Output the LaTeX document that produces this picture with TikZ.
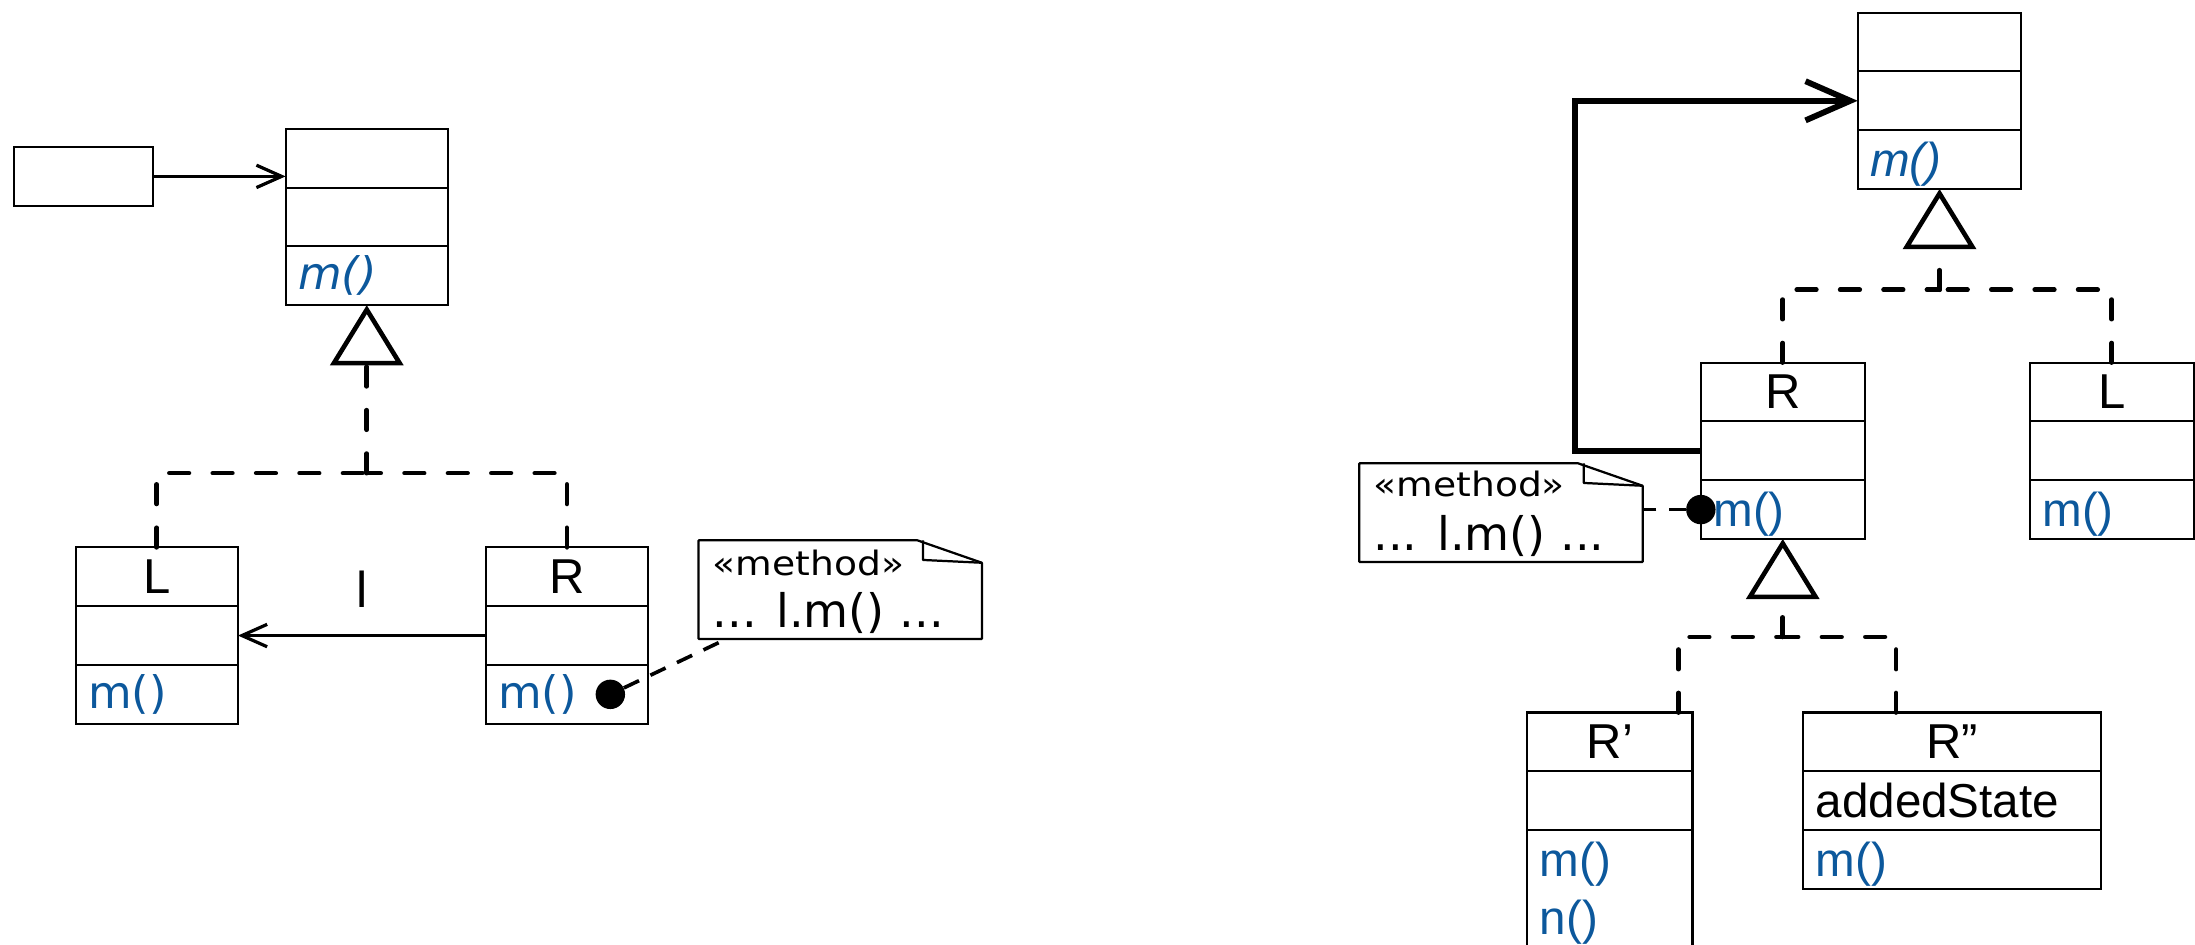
\documentclass[tikz,border=0pt]{standalone}
\usepackage{fontspec}
\usepackage{graphicx}
\setmainfont{Liberation Sans}
\newfontfamily\vfont{DejaVu Sans}
\usetikzlibrary{arrows.meta, positioning}

\definecolor{methblue}{RGB}{12,88,156}

\newcommand{\namefont}{\fontsize{35}{41}\selectfont}
\newcommand{\methfont}{\fontsize{34}{41}\selectfont}
\newcommand{\lmethfont}{\vfont\fontsize{32}{38}\selectfont}
\newcommand{\stereo}[1]{\scalebox{1.12}[1]{#1}}

\tikzset{
  clsbox/.style={draw, line width=1.5pt, outer sep=0pt, inner xsep=9pt, inner ysep=0pt, minimum height=42pt},
  clsname/.style={clsbox, font=\namefont, align=center, text height=24pt, text depth=0pt},
  clsattr/.style={clsbox, font=\methfont, align=left, text height=24pt, text depth=0pt},
  clsmeth/.style={clsbox, font=\methfont, text=methblue, align=left, text height=24pt, text depth=0pt},
  realize/.style={line width=3.3pt, dash pattern=on 14pt off 17pt, line cap=round},
  gen/.style={-{Triangle[open, length=43pt, width=52pt]}},
  assoc/.style={line width=2.3pt, -{Straight Barb[length=18pt, width=16pt]}},
  navig/.style={line width=4.2pt, -{Straight Barb[length=32pt, width=28pt]}},
  dotnode/.style={circle, fill, inner sep=0pt, minimum size=21pt},
  notefrm/.style={anchor=north west, inner sep=0pt, minimum width=202pt, minimum height=70pt},
  notebox/.style={line width=1.6pt, line join=round},
  noteline/.style={line width=2.6pt, dash pattern=on 12pt off 9pt},
  stereotxt/.style={anchor=base west, inner sep=0pt, font=\vfont\fontsize{24}{28}\selectfont},
  codetxt/.style={anchor=base west, inner sep=0pt, font=\vfont\fontsize{33}{38}\selectfont},
}

% #1 extra keys for the methods part, #2 name, #3 north west corner, #4 width
\newcommand{\umlclass}[7][]{%
  \pgfmathsetmacro{\clstw}{#4-18}%
  \node[clsname, minimum width=#4pt, text width=\clstw pt, anchor=north west] (#2) at (#3) {#5};
  \node[clsattr, minimum width=#4pt, text width=\clstw pt, below=0pt of #2] (#2-a) {#6};
  \node[clsmeth, minimum width=#4pt, text width=\clstw pt, below=0pt of #2-a, #1] (#2-m) {#7};
}

\begin{document}
\begin{tikzpicture}[x=1pt, y=-1pt]

\useasboundingbox (0,0) rectangle (1568,675);
\clip (0,0) rectangle (1568,675);

% left hand side
\node[clsbox, minimum width=99pt, anchor=north west] (S) at (10,105) {};
\umlclass[font=\lmethfont\itshape, text height={}, text depth={}]{A}{204,92}{116}{}{}{m()}
\umlclass[font=\lmethfont, text height={}, text depth={}]{L1}{54,391}{116}{L}{}{m()}
\umlclass[font=\lmethfont, text height={}, text depth={}]{R1}{347,391}{116}{R}{}{m()}

\draw[assoc] (S) -- (S -| A.west);
\draw[assoc] (R1-a) -- (L1-a) node[midway, above=19pt, inner sep=0pt, font=\fontsize{36}{40}\selectfont] (lbl) {l};

\coordinate (jA) at (262,338);
\draw[realize] (L1.north) |- (jA);
\draw[realize] (R1.north) |- (jA);
\draw[realize, gen] (jA) -- (A-m.south);

\node[dotnode] (d1) at ([xshift=-27pt]R1-m.east) {};
\node[notefrm] (N1) at (499,386) {};
\draw[notebox] (N1.north west) -- ([xshift=-46pt]N1.north east) -- ([yshift=-16pt]N1.north east) -- (N1.south east) -- (N1.south west) -- cycle;
\draw[notebox] ([xshift=-42pt]N1.north east) -- ++(0,14) -- ([yshift=-16pt]N1.north east);
\node[stereotxt] (N1-s) at ([xshift=10pt, yshift=-25pt]N1.north west) {\stereo{«method»}};
\node[codetxt] (N1-c) at ([xshift=10pt, yshift=-62pt]N1.north west) {... l.m() ...};
\coordinate (n1foot) at ([xshift=20pt]N1.south west);
\draw[noteline] (d1) -- (n1foot);

% right hand side
\umlclass[font=\methfont\itshape]{B}{1327,9}{117}{}{}{m()}
\umlclass{R2}{1215,259}{117}{R}{}{m()}
\umlclass{L2}{1450,259}{117}{L}{}{m()}
\umlclass[minimum height=90pt, text height={}, text depth={}]{Rp}{1091,509}{118}{R’}{}{m()\\n()}
\umlclass{Rpp}{1288,509}{213}{R”}{addedState}{m()}

\coordinate (jB) at (1385.5,207);
\draw[realize] (R2.north) |- (jB);
\draw[realize] (L2.north) |- (jB);
\draw[realize, gen] (jB) -- (B-m.south);

\coordinate (jR) at (1273.5,455);
\draw[realize] ([xshift=49pt]Rp.north) |- (jR);
\draw[realize] ([xshift=-40pt]Rpp.north) |- (jR);
\draw[realize, gen] (jR) -- (R2-m.south);

\coordinate (bend) at ([xshift=-90pt]R2-a.west);
\draw[navig] (R2-a.west) -- (bend) |- (B-a.west);

\node[dotnode] (d2) at (R2-m.west) {};
\node[notefrm] (N2) at (971,331) {};
\draw[notebox] (N2.north west) -- ([xshift=-46pt]N2.north east) -- ([yshift=-16pt]N2.north east) -- (N2.south east) -- (N2.south west) -- cycle;
\draw[notebox] ([xshift=-42pt]N2.north east) -- ++(0,14) -- ([yshift=-16pt]N2.north east);
\node[stereotxt] (N2-s) at ([xshift=10pt, yshift=-24pt]N2.north west) {\stereo{«method»}};
\node[codetxt] (N2-c) at ([xshift=10pt, yshift=-62pt]N2.north west) {... l.m() ...};
\draw[noteline] (d2) -- (d2 -| N2.east);

\end{tikzpicture}
\end{document}
